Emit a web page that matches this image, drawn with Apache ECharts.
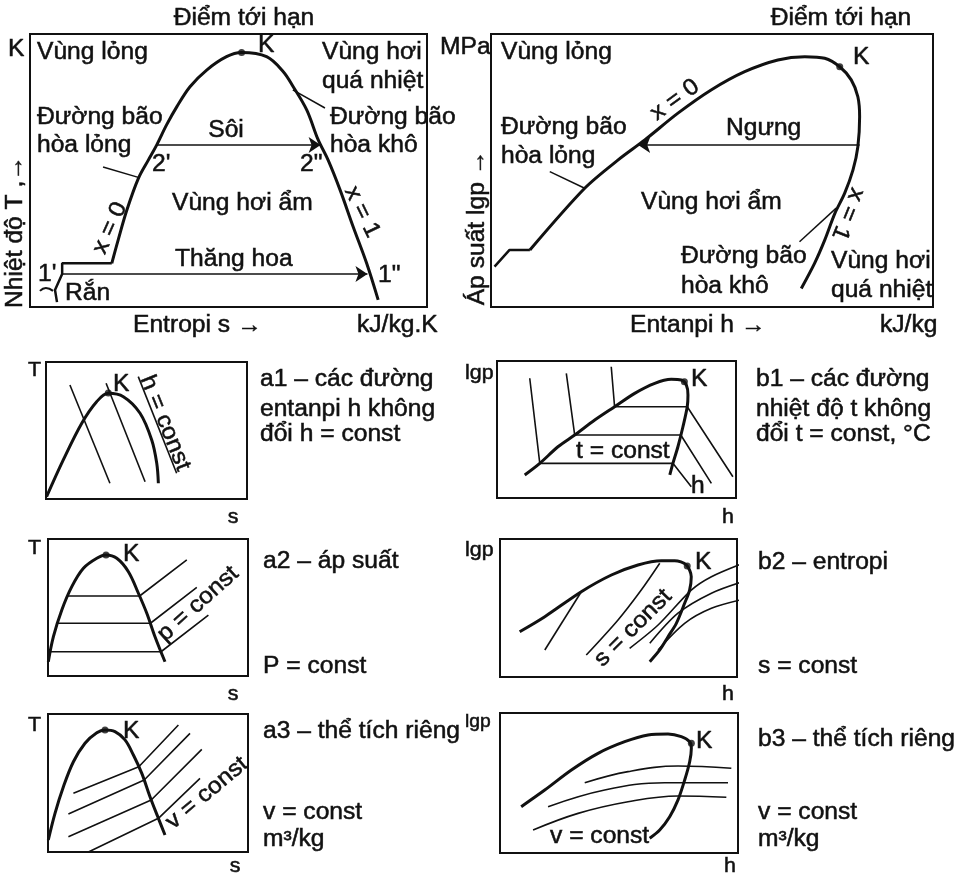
<!DOCTYPE html>
<html><head><meta charset="utf-8">
<script src="https://cdn.jsdelivr.net/npm/echarts@6/dist/echarts.min.js"></script>
<style>html,body{margin:0;padding:0;background:#fff}#c{width:956px;height:876px}</style>
</head><body><div id="c"></div>
<script>
// ---------- Panel A: T–s diagram (s, T in relative units 0..100) ----------
const tsDome = [[20.6,16.0],[22.2,24.5],[24.4,35.5],[27.3,47.1],[29.8,53.8],[31.9,59.3],[34.4,66.7],[37.0,73.4],[40.3,80.7],[44.5,86.8],[49.5,91.7],[53.3,93.2],[59.6,91.7],[63.8,86.2],[66.3,80.7],[69.7,72.2],[72.6,61.2],[75.1,53.8],[78.1,42.9],[81.4,29.4],[84.8,16.0],[87.7,2.6]];
const tsSolidStep = [[20.6,16.0],[8.1,16.0],[8.1,12.1],[6.3,6.2],[6.8,1.8]];
const tsSolidHook = [[2.5,5.9],[4.0,7.0],[5.8,5.9]];
const tsBoiling = [[31.9,59.3],[73.2,59.3]];
const tsSublimation = [[8.1,12.1],[85.0,12.1]];
const tsPointerLiquid = [[18.4,51.3],[27.7,47.3]];
const tsPointerVapor = [[66.2,79.5],[74.3,72.9]];
const tsCritical = [53.3,93.2];

// ---------- Panel B: lgp–h diagram ----------
const phStep = [[0.8,14.8],[4.2,20.9],[8.8,20.9]];
const phSat = [[8.8,20.9],[21.2,43.5],[28.7,53.8],[34.8,61.2],[42.3,71.0],[49.8,79.5],[57.4,86.2],[64.9,90.5],[71.0,91.7],[75.5,91.1],[78.9,88.0],[81.5,83.2],[83.0,77.0],[83.4,69.7],[83.0,58.7],[81.9,50.2],[80.0,41.6],[77.8,34.3],[75.5,24.5],[73.2,16.0],[70.2,6.8]];
const phCondensing = [[83.4,59.3],[33.3,59.3]];
const phPointerLiquid = [[13.3,49.6],[21.2,43.5]];
const phPointerVapor = [[69.8,23.9],[78.1,36.2]];
const phCritical = [78.9,88.0];

// ---------- a1: h = const on T–s ----------
const a1Dome = [[0.3,1.7],[8.6,28.5],[17.8,55.3],[25.2,71.0],[31.0,77.1],[38.5,74.7],[46.8,62.6],[52.6,43.1],[55.1,26.1],[55.9,11.5]];
const a1Enthalpy = [[[11.9,83.2],[31.8,11.5]],[[29.9,84.5],[49.3,12.6]],[[45.9,89.3],[65.0,18.8]]];
const a1Critical = [31.0,77.4];

// ---------- b1: t = const on lgp–h ----------
const b1Sat = [[11.6,16.8],[17.9,25.3],[25.5,37.4],[32.5,46.0],[40.9,56.9],[49.2,66.6],[57.6,76.4],[66.0,83.7],[72.9,86.6],[77.1,86.1],[79.2,82.5],[79.9,75.2],[79.6,66.6],[77.8,52.0],[75.7,37.4],[73.6,25.3],[72.3,16.8]];
const b1Isotherms = [[[13.7,87.4],[17.9,25.3],[73.6,25.3],[81.3,8.2]],[[29.0,91.0],[32.5,46.0],[76.9,46.0],[89.7,10.7]],[[47.8,95.8],[49.2,66.6],[79.6,66.6],[98.7,15.5]]];
const b1Critical = [78.4,84.8];

// ---------- a2: p = const on T–s ----------
const a2Dome = [[0.15,10.4],[2.7,28.7],[6.9,48.2],[11.9,65.2],[17.7,78.6],[24.4,85.9],[29.0,88.3],[34.4,85.9],[40.2,76.1],[45.2,60.4],[49.4,45.8],[53.5,28.7],[58.5,10.4]];
const a2Isobars = [[[9.9,58.4],[45.8,58.4],[69.4,84.7]],[[4.8,38.5],[51.2,38.5],[74.4,64.7]],[[1.2,17.7],[56.5,17.7],[80.2,44.5]]];
const a2Critical = [29.0,88.3];

// ---------- b2: s = const on lgp–h ----------
const b2Sat = [[8.3,32.8],[18.9,43.7],[34.3,61.8],[47.0,73.9],[58.2,81.2],[68.1,84.3],[73.7,84.3],[78.6,81.2],[80.7,72.7],[80.0,63.0],[77.9,53.4],[74.4,38.9],[70.9,29.2],[67.4,19.6],[63.2,11.1]];
const b2Isentropes = [[[34.3,61.8],[18.9,19.6]],[[67.4,82.4],[59.6,63.0],[49.8,41.3],[36.4,15.9]],[[54.7,20.8],[66.7,37.7],[80.7,63.0],[89.2,72.7],[102.5,82.4]],[[63.2,24.4],[75.1,46.2],[89.2,60.7],[102.5,69.1]],[[66.7,19.6],[77.9,38.9],[89.2,49.8],[102.5,56.3]]];
const b2Critical = [79.0,80.4];

// ---------- a3: v = const on T–s ----------
const a3Dome = [[0.15,8.7],[3.5,28.0],[7.7,47.3],[12.7,65.4],[18.5,78.8],[24.4,86.4],[28.5,88.4],[33.5,87.2],[38.5,81.2],[42.7,70.3],[46.9,57.0],[51.0,40.1],[55.2,24.4],[58.5,12.3]];
const a3Isochores = [[[12.7,42.5],[45.4,61.8],[65.2,92.0]],[[10.2,27.5],[48.1,52.2],[71.0,86.0]],[[10.2,11.1],[51.6,37.7],[76.9,74.4]],[[20.2,0],[55.2,24.4],[76.0,53.4]]];
const a3Critical = [28.5,88.4];

// ---------- b3: v = const on lgp–h ----------
const b3Sat = [[8.9,33.1],[18.8,45.0],[30.0,59.3],[41.2,71.2],[52.4,79.5],[62.2,84.3],[70.6,85.0],[76.2,83.1],[79.7,79.5],[80.4,74.8],[79.7,65.2],[77.6,52.1],[74.8,37.9],[71.3,25.9],[67.1,16.4],[62.9,10.5]];
const b3Isochores = [[[35.6,50.2],[53.8,58.1],[74.8,62.1],[97.2,60.5]],[[20.2,33.1],[44.0,45.0],[69.2,50.2],[95.8,50.2]],[[13.9,16.4],[32.8,28.3],[53.8,36.6],[74.8,40.7],[95.1,39.8]]];
const b3Critical = [80.4,78.4];

// ---------- layout ----------
const panels = [
  {left:30, top:34, width:397, height:273},
  {left:491, top:34, width:442, height:273},
  {left:46, top:362, width:201, height:137},
  {left:497, top:361, width:239, height:137},
  {left:48, top:539, width:200, height:137},
  {left:500, top:539, width:237, height:138},
  {left:48, top:714, width:200, height:138},
  {left:500, top:713, width:238, height:140}
];
const INK = '#111';
const FONT = '"Liberation Sans", Arial, Helvetica, sans-serif';

function curve(data, gi, w, smooth) {
  return {type:'line', xAxisIndex:gi, yAxisIndex:gi, data:data, smooth:(smooth===undefined?0.35:smooth),
    symbol:'none', lineStyle:{color:INK, width:w}, clip:false, silent:true, animation:false, z:3};
}
function arrow(coords, gi) {
  return {type:'lines', coordinateSystem:'cartesian2d', xAxisIndex:gi, yAxisIndex:gi,
    symbol:['none','arrow'], symbolSize:12, lineStyle:{color:INK, width:1.6, opacity:1},
    data:[{coords:coords}], silent:true, animation:false, z:4};
}
function dot(pt, gi) {
  return {type:'scatter', xAxisIndex:gi, yAxisIndex:gi, data:[pt], symbolSize:7,
    itemStyle:{color:INK}, silent:true, animation:false, z:5};
}
function label(text, x, y, o) {
  o = o || {};
  const al = o.align || 'left';
  return {type:'text', x:x, y:y, rotation:o.rot||0, scaleX:(o.sx||1.07), silent:true, z:100,
    style:{text:text, font:(o.size||23)+'px '+FONT, fill:INK, stroke:INK, lineWidth:0.5,
      textAlign:al, textVerticalAlign:'middle', align:al, verticalAlign:'middle'}};
}
const deg = Math.PI/180;

const series = [];
// Panel A
series.push(curve(tsDome, 0, 3));
series.push(curve(tsSolidStep, 0, 2.5, false));
series.push(curve(tsSolidHook, 0, 2, 0.5));
series.push(arrow(tsBoiling, 0));
series.push(arrow(tsSublimation, 0));
series.push(curve(tsPointerLiquid, 0, 1.5, false));
series.push(curve(tsPointerVapor, 0, 1.5, false));
series.push(dot(tsCritical, 0));
// Panel B
series.push(curve(phStep, 1, 2.5, false));
series.push(curve(phSat, 1, 3, 0.3));
series.push(arrow(phCondensing, 1));
series.push(curve(phPointerLiquid, 1, 1.5, false));
series.push(curve(phPointerVapor, 1, 1.5, false));
series.push(dot(phCritical, 1));
// a1
series.push(curve(a1Dome, 2, 3));
a1Enthalpy.forEach(l => series.push(curve(l, 2, 1.6, false)));
series.push(dot(a1Critical, 2));
// b1
series.push(curve(b1Sat, 3, 3, 0.3));
b1Isotherms.forEach(l => series.push(curve(l, 3, 1.6, false)));
series.push(dot(b1Critical, 3));
// a2
series.push(curve(a2Dome, 4, 3));
a2Isobars.forEach(l => series.push(curve(l, 4, 1.6, false)));
series.push(dot(a2Critical, 4));
// b2
series.push(curve(b2Sat, 5, 3, 0.3));
b2Isentropes.forEach(l => series.push(curve(l, 5, 1.6, 0.3)));
series.push(dot(b2Critical, 5));
// a3
series.push(curve(a3Dome, 6, 3));
a3Isochores.forEach(l => series.push(curve(l, 6, 1.6, false)));
series.push(dot(a3Critical, 6));
// b3
series.push(curve(b3Sat, 7, 3, 0.3));
b3Isochores.forEach(l => series.push(curve(l, 7, 1.6, 0.4)));
series.push(dot(b3Critical, 7));

const texts = [
  // Panel A
  label('Điểm tới hạn', 244, 19, {align:'center'}),
  label('K', 8, 50),
  label('Vùng lỏng', 37, 53),
  label('K', 258, 46),
  label('Vùng hơi', 322, 53),
  label('quá nhiệt', 322, 82),
  label('Đường bão', 37, 118),
  label('hòa lỏng', 37, 146),
  label('Sôi', 226, 131, {align:'center'}),
  label('Đường bão', 330, 118),
  label('hòa khô', 330, 146),
  label("2'", 152, 165),
  label('2"', 300, 165),
  label('x = 0', 110, 228, {align:'center', rot:66*deg}),
  label('Vùng hơi ẩm', 172, 204),
  label('x = 1', 362, 212, {align:'center', rot:-64*deg}),
  label('Thăng hoa', 175, 260),
  label("1'", 38, 275),
  label('1"', 378, 276),
  label('Rắn', 65, 294),
  label('Entropi s →', 133, 326),
  label('kJ/kg.K', 357, 326),
  label('Nhiệt độ T ,→', 16, 232, {align:'center', rot:90*deg}),
  // Panel B
  label('Điểm tới hạn', 841, 19, {align:'center'}),
  label('MPa', 440, 48),
  label('Vùng lỏng', 501, 53),
  label('K', 853, 58),
  label('x = 0', 675, 100, {align:'center', rot:36*deg}),
  label('Đường bão', 501, 128),
  label('hòa lỏng', 501, 157),
  label('Ngưng', 726, 129),
  label('Vùng hơi ẩm', 641, 203),
  label('x = 1', 848, 214, {align:'center', rot:-112*deg}),
  label('Đường bão', 681, 257),
  label('hòa khô', 681, 287),
  label('Vùng hơi', 831, 262),
  label('quá nhiệt', 831, 291),
  label('Entanpi h →', 630, 326),
  label('kJ/kg', 880, 326),
  label('Áp suất lgp →', 478, 228, {align:'center', rot:90*deg}),
  // a1
  label('T', 28, 370, {size:20}),
  label('K', 113, 385),
  label('h = const', 165, 423, {align:'center', rot:-68*deg}),
  label('a1 – các đường', 260, 380),
  label('entanpi h không', 260, 410),
  label('đổi h = const', 260, 435),
  label('s', 233, 517, {align:'center', size:20}),
  // b1
  label('lgp', 465, 373, {size:20}),
  label('K', 691, 380),
  label('t = const', 576, 452),
  label('h', 691, 487),
  label('b1 – các đường', 756, 380),
  label('nhiệt độ t không', 756, 410),
  label('đổi t = const, °C', 756, 435),
  label('h', 728, 517, {align:'center', size:20}),
  // a2
  label('T', 28, 548, {size:20}),
  label('K', 123, 555),
  label('p = const', 198, 604, {align:'center', rot:42*deg}),
  label('a2 – áp suất', 263, 562),
  label('P = const', 263, 667),
  label('s', 233, 694, {align:'center', size:20}),
  // b2
  label('lgp', 465, 550, {size:20}),
  label('K', 695, 563),
  label('s = const', 633, 628, {align:'center', rot:45*deg}),
  label('b2 – entropi', 758, 563),
  label('s = const', 758, 667),
  label('h', 728, 694, {align:'center', size:20}),
  // a3
  label('T', 28, 725, {size:20}),
  label('K', 123, 732),
  label('v = const', 207, 793, {align:'center', rot:40*deg}),
  label('a3 – thể tích riêng', 263, 732),
  label('v = const', 263, 813),
  label('m³/kg', 263, 840),
  label('s', 235, 866, {align:'center', size:20}),
  // b3
  label('lgp', 465, 722, {size:18}),
  label('K', 696, 742),
  label('v = const', 550, 837),
  label('b3 – thể tích riêng', 758, 740),
  label('v = const', 758, 813),
  label('m³/kg', 758, 840),
  label('h', 730, 866, {align:'center', size:20})
];

const option = {
  backgroundColor:'#fff',
  animation:false,
  grid: panels.map(p => ({left:p.left, top:p.top, width:p.width, height:p.height, show:true,
    borderColor:INK, borderWidth:2, backgroundColor:'transparent', containLabel:false})),
  xAxis: panels.map((p,i) => ({type:'value', gridIndex:i, min:0, max:100, show:false})),
  yAxis: panels.map((p,i) => ({type:'value', gridIndex:i, min:0, max:100, show:false})),
  series: series,
  graphic: {elements: texts}
};
const chart = echarts.init(document.getElementById('c'), null, {renderer:'canvas'});
chart.setOption(option);
</script></body></html>
